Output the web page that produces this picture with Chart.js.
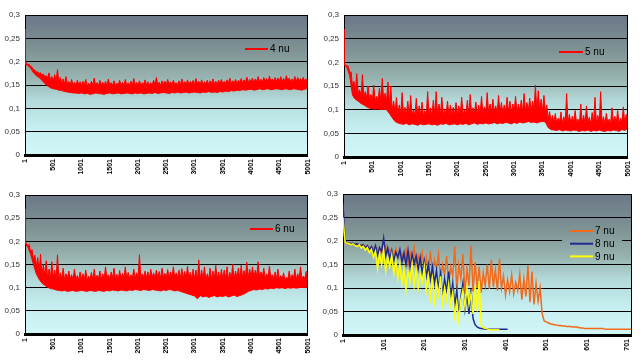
<!DOCTYPE html>
<html>
<head>
<meta charset="utf-8">
<script src="https://cdn.jsdelivr.net/npm/chart.js@4/dist/chart.umd.min.js"></script>
<style>
  html, body { margin: 0; padding: 0; background: #ffffff; }
  #wrap { position: relative; width: 640px; height: 360px; overflow: hidden; }
  canvas { position: absolute; }
</style>
</head>
<body>
<div id="wrap">
  <canvas id="c1" width="320" height="180" style="left:0;top:0"></canvas>
  <canvas id="c2" width="320" height="180" style="left:320px;top:0"></canvas>
  <canvas id="c3" width="320" height="180" style="left:0;top:180px"></canvas>
  <canvas id="c4" width="320" height="180" style="left:320px;top:180px"></canvas>
</div>
<script>
// ---------- tick labels ----------
const yTicks = [0, 0.05, 0.1, 0.15, 0.2, 0.25, 0.3];
const yLabels = ["0", "0,05", "0,1", "0,15", "0,2", "0,25", "0,3"];
const xTicksLong = [1, 501, 1001, 1501, 2001, 2501, 3001, 3501, 4001, 4501, 5001];
const xLabelsLong = ["1", "501", "1001", "1501", "2001", "2501", "3001", "3501", "4001", "4501", "5001"];
const xTicksShort = [1, 101, 201, 301, 401, 501, 601, 701];
const xLabelsShort = ["1", "101", "201", "301", "401", "501", "601", "701"];

// ---------- 4 nu : band bottom (lows) and band top (mids) at x = 1 + 50i, spikes (highs) at x = 26 + 50i ----------
const start4 = 0.27;
const lows4 = [
 0.195,0.192,0.186,0.176,0.170,0.166,0.160,0.153,0.148,0.144,
 0.142,0.141,0.139,0.138,0.136,0.135,0.134,0.133,0.133,0.132,
 0.133,0.131,0.132,0.130,0.131,0.133,0.132,0.131,0.130,0.132,
 0.133,0.131,0.132,0.133,0.131,0.132,0.133,0.132,0.131,0.133,
 0.132,0.133,0.131,0.132,0.133,0.132,0.134,0.132,0.133,0.134,
 0.133,0.132,0.134,0.133,0.135,0.133,0.134,0.135,0.133,0.134,
 0.135,0.134,0.133,0.135,0.134,0.136,0.134,0.135,0.134,0.136,
 0.135,0.137,0.136,0.138,0.137,0.139,0.138,0.140,0.139,0.140,
 0.141,0.139,0.140,0.142,0.140,0.141,0.142,0.140,0.141,0.142,
 0.141,0.140,0.142,0.141,0.140,0.142,0.141,0.140,0.139,0.141,0.143];
const mids4 = [
 0.196,0.194,0.190,0.183,0.178,0.175,0.172,0.168,0.165,0.160,
 0.158,0.157,0.155,0.153,0.152,0.151,0.150,0.150,0.149,0.150,
 0.149,0.150,0.148,0.149,0.150,0.149,0.148,0.150,0.149,0.148,
 0.150,0.149,0.148,0.150,0.149,0.150,0.148,0.149,0.150,0.149,
 0.150,0.149,0.151,0.150,0.149,0.150,0.151,0.150,0.149,0.151,
 0.150,0.151,0.150,0.152,0.151,0.150,0.152,0.151,0.150,0.152,
 0.151,0.152,0.151,0.150,0.152,0.151,0.153,0.152,0.151,0.153,
 0.152,0.153,0.154,0.152,0.154,0.153,0.155,0.154,0.156,0.155,
 0.156,0.155,0.157,0.156,0.157,0.158,0.156,0.157,0.158,0.157,
 0.158,0.157,0.158,0.159,0.157,0.158,0.157,0.159,0.158,0.157,0.156];
const highs4 = [
 0.197,0.194,0.188,0.182,0.178,0.176,0.173,0.170,0.176,0.168,
 0.172,0.183,0.166,0.163,0.168,0.158,0.162,0.156,0.160,0.157,
 0.158,0.162,0.154,0.158,0.165,0.155,0.160,0.156,0.158,0.163,
 0.155,0.159,0.154,0.160,0.156,0.162,0.155,0.158,0.164,0.156,
 0.159,0.155,0.161,0.157,0.155,0.160,0.166,0.156,0.159,0.158,
 0.162,0.157,0.160,0.155,0.159,0.163,0.157,0.161,0.158,0.160,
 0.164,0.158,0.161,0.157,0.160,0.159,0.163,0.158,0.160,0.162,
 0.158,0.161,0.165,0.159,0.162,0.160,0.164,0.161,0.167,0.162,
 0.165,0.163,0.168,0.162,0.166,0.164,0.169,0.163,0.166,0.165,
 0.168,0.164,0.170,0.165,0.163,0.168,0.166,0.164,0.167,0.163];

// ---------- 5 nu ----------
const start5 = 0.27;
const lows5 = [
 0.195,0.190,0.172,0.130,0.122,0.118,0.113,0.110,0.106,0.103,
 0.102,0.101,0.102,0.100,0.101,0.100,0.092,0.083,0.075,0.072,
 0.070,0.069,0.071,0.068,0.070,0.069,0.067,0.070,0.068,0.069,
 0.070,0.068,0.069,0.067,0.070,0.069,0.071,0.068,0.069,0.070,
 0.068,0.070,0.069,0.071,0.068,0.070,0.072,0.069,0.071,0.070,
 0.072,0.070,0.071,0.073,0.070,0.072,0.071,0.073,0.072,0.070,
 0.073,0.071,0.074,0.072,0.073,0.075,0.073,0.074,0.072,0.074,
 0.075,0.074,0.062,0.058,0.057,0.056,0.058,0.055,0.057,0.056,
 0.055,0.057,0.056,0.054,0.056,0.055,0.057,0.054,0.056,0.055,
 0.057,0.055,0.054,0.056,0.055,0.057,0.056,0.054,0.058,0.056,0.060];
const mids5 = [
 0.196,0.192,0.178,0.150,0.140,0.135,0.130,0.128,0.125,0.122,
 0.120,0.119,0.120,0.118,0.119,0.118,0.112,0.100,0.094,0.090,
 0.090,0.088,0.090,0.087,0.089,0.088,0.086,0.089,0.087,0.088,
 0.089,0.087,0.088,0.086,0.089,0.088,0.090,0.087,0.088,0.089,
 0.088,0.090,0.089,0.091,0.088,0.090,0.092,0.089,0.091,0.092,
 0.094,0.092,0.093,0.095,0.092,0.094,0.093,0.096,0.094,0.093,
 0.096,0.094,0.097,0.095,0.096,0.098,0.096,0.099,0.097,0.098,
 0.098,0.095,0.080,0.074,0.073,0.072,0.074,0.071,0.073,0.072,
 0.071,0.073,0.072,0.070,0.072,0.071,0.073,0.070,0.072,0.071,
 0.073,0.071,0.070,0.072,0.071,0.073,0.072,0.070,0.074,0.072,0.075];
const highs5 = [
 0.195,0.192,0.180,0.160,0.176,0.142,0.174,0.138,0.150,0.132,
 0.152,0.128,0.145,0.166,0.135,0.158,0.150,0.118,0.126,0.110,
 0.136,0.105,0.118,0.130,0.100,0.124,0.108,0.116,0.098,0.138,
 0.104,0.120,0.138,0.112,0.126,0.101,0.118,0.110,0.105,0.115,
 0.108,0.126,0.100,0.120,0.132,0.104,0.116,0.110,0.128,0.106,
 0.136,0.112,0.122,0.108,0.130,0.115,0.110,0.126,0.118,0.112,
 0.128,0.112,0.120,0.134,0.115,0.124,0.118,0.152,0.140,0.122,
 0.130,0.110,0.096,0.088,0.092,0.082,0.095,0.085,0.134,0.090,
 0.086,0.098,0.080,0.112,0.088,0.108,0.084,0.094,0.126,0.088,
 0.138,0.085,0.092,0.080,0.104,0.086,0.098,0.082,0.106,0.090];

// ---------- 6 nu ----------
const start6 = 0.27;
const lows6 = [
 0.195,0.188,0.172,0.150,0.130,0.118,0.110,0.105,0.101,0.098,
 0.097,0.095,0.094,0.093,0.094,0.092,0.093,0.094,0.092,0.093,
 0.094,0.093,0.092,0.094,0.093,0.092,0.094,0.093,0.092,0.094,
 0.093,0.095,0.094,0.093,0.095,0.094,0.093,0.095,0.094,0.096,
 0.095,0.094,0.096,0.095,0.094,0.096,0.095,0.094,0.093,0.095,
 0.094,0.096,0.095,0.093,0.094,0.092,0.090,0.088,0.086,0.084,
 0.082,0.076,0.083,0.080,0.082,0.079,0.081,0.083,0.080,0.082,
 0.081,0.083,0.080,0.082,0.084,0.081,0.083,0.085,0.088,0.092,
 0.094,0.096,0.095,0.097,0.096,0.098,0.097,0.099,0.098,0.100,
 0.099,0.100,0.098,0.100,0.099,0.100,0.099,0.100,0.101,0.100,0.102];
const mids6 = [
 0.196,0.190,0.178,0.160,0.145,0.135,0.128,0.125,0.122,0.120,
 0.120,0.119,0.118,0.119,0.117,0.118,0.119,0.117,0.118,0.117,
 0.118,0.117,0.116,0.118,0.117,0.118,0.119,0.117,0.118,0.119,
 0.118,0.120,0.119,0.118,0.120,0.121,0.119,0.120,0.121,0.120,
 0.121,0.120,0.122,0.121,0.120,0.122,0.121,0.122,0.120,0.121,
 0.122,0.121,0.123,0.121,0.122,0.120,0.121,0.120,0.119,0.120,
 0.118,0.115,0.117,0.118,0.116,0.118,0.117,0.119,0.118,0.117,
 0.118,0.119,0.117,0.120,0.119,0.121,0.120,0.122,0.123,0.122,
 0.124,0.123,0.125,0.122,0.124,0.121,0.123,0.120,0.119,0.118,
 0.117,0.118,0.116,0.119,0.117,0.120,0.118,0.121,0.119,0.120,0.118];
const highs6 = [
 0.196,0.193,0.182,0.170,0.165,0.172,0.150,0.158,0.140,0.156,
 0.138,0.171,0.132,0.142,0.130,0.136,0.128,0.140,0.126,0.134,
 0.130,0.138,0.125,0.133,0.140,0.127,0.136,0.130,0.145,0.128,
 0.134,0.142,0.129,0.137,0.131,0.145,0.133,0.128,0.140,0.132,
 0.171,0.130,0.136,0.134,0.140,0.132,0.138,0.135,0.142,0.131,
 0.139,0.134,0.145,0.132,0.138,0.141,0.135,0.146,0.133,0.140,
 0.138,0.160,0.138,0.145,0.130,0.142,0.136,0.148,0.134,0.140,
 0.138,0.145,0.133,0.150,0.136,0.142,0.148,0.137,0.155,0.140,
 0.145,0.138,0.156,0.134,0.142,0.130,0.146,0.128,0.134,0.140,
 0.126,0.132,0.122,0.136,0.128,0.140,0.130,0.145,0.125,0.135];

// ---------- 7 / 8 / 9 nu (values at x = 1 + 5i) ----------
const nu7 = [
 0.250,0.197,0.195,0.194,0.195,0.193,0.194,0.192,0.193,0.190,
 0.192,0.188,0.190,0.186,0.182,0.188,0.178,0.185,0.172,0.186,
 0.176,0.190,0.170,0.182,0.176,0.168,0.184,0.165,0.178,0.172,
 0.160,0.182,0.150,0.176,0.158,0.186,0.145,0.170,0.152,0.175,
 0.140,0.165,0.135,0.178,0.130,0.160,0.142,0.172,0.118,0.150,
 0.128,0.168,0.110,0.145,0.125,0.188,0.095,0.150,0.120,0.172,
 0.088,0.140,0.105,0.190,0.092,0.155,0.100,0.145,0.090,0.132,
 0.105,0.150,0.098,0.160,0.102,0.138,0.095,0.162,0.100,0.125,
 0.085,0.118,0.092,0.128,0.088,0.112,0.095,0.130,0.075,0.120,
 0.082,0.148,0.070,0.135,0.065,0.110,0.072,0.100,0.045,0.030,
 0.028,0.026,0.024,0.023,0.022,0.021,0.020,0.020,0.019,0.019,
 0.018,0.018,0.018,0.017,0.017,0.017,0.016,0.015,0.015,0.014,
 0.014,0.014,0.014,0.014,0.014,0.014,0.014,0.014,0.014,0.012,
 0.012,0.012,0.012,0.012,0.012,0.012,0.012,0.012,0.012,0.012,
 0.012,0.012,0.012];
const nu8 = [
 0.280,0.200,0.196,0.195,0.194,0.195,0.193,0.194,0.192,0.190,
 0.192,0.186,0.190,0.182,0.188,0.176,0.190,0.170,0.186,0.178,
 0.206,0.168,0.185,0.162,0.180,0.158,0.176,0.165,0.182,0.155,
 0.175,0.150,0.180,0.145,0.172,0.152,0.168,0.140,0.165,0.132,
 0.158,0.125,0.150,0.118,0.145,0.110,0.138,0.098,0.130,0.085,
 0.120,0.092,0.135,0.078,0.110,0.062,0.095,0.040,0.080,0.110,
 0.055,0.088,0.045,0.098,0.035,0.022,0.017,0.015,0.014,0.013,
 0.012,0.012,0.012,0.012,0.012,0.012,0.012,0.012,0.012,0.012,
 0.012,0.012];
const nu9 = [
 0.250,0.198,0.195,0.194,0.192,0.194,0.190,0.188,0.192,0.185,
 0.189,0.180,0.186,0.175,0.182,0.165,0.178,0.140,0.172,0.150,
 0.180,0.135,0.165,0.145,0.170,0.130,0.158,0.120,0.150,0.110,
 0.140,0.096,0.135,0.115,0.150,0.105,0.140,0.100,0.130,0.112,
 0.145,0.095,0.125,0.080,0.118,0.072,0.110,0.085,0.125,0.068,
 0.100,0.075,0.108,0.065,0.090,0.040,0.070,0.032,0.075,0.095,
 0.060,0.100,0.065,0.088,0.045,0.105,0.050,0.115,0.020,0.016,
 0.014,0.013,0.011,0.011,0.011,0.011,0.011,0.011];

// ---------- helpers ----------
function zigzag(start, mids, highs, step) {
  const pts = [{ x: 1, y: start }];
  for (let i = 0; i < mids.length; i++) {
    pts.push({ x: 1 + step * i, y: mids[i] });
    if (i < highs.length) pts.push({ x: 1 + step * i + step / 2, y: highs[i] });
  }
  return pts;
}
function series(vals, step) {
  return vals.map((v, i) => ({ x: 1 + step * i, y: v }));
}
function plotGradient(chart) {
  const a = chart.chartArea;
  const g = chart.ctx.createLinearGradient(0, a.top, 0, a.bottom);
  g.addColorStop(0, '#6b7888');
  g.addColorStop(0.25, '#7f9394');
  g.addColorStop(0.45, '#98b4b0');
  g.addColorStop(0.6, '#b2d8d8');
  g.addColorStop(0.8, '#c6eef0');
  g.addColorStop(1, '#d2f6f6');
  return g;
}

const bgPlugin = {
  id: 'plotBg',
  beforeDraw(chart) {
    const a = chart.chartArea, ctx = chart.ctx;
    ctx.save();
    ctx.fillStyle = plotGradient(chart);
    ctx.fillRect(a.left, a.top, a.right - a.left, a.bottom - a.top);
    ctx.restore();
  },
  beforeDatasetsDraw(chart) {
    const a = chart.chartArea, ctx = chart.ctx;
    ctx.save();
    ctx.strokeStyle = '#000';
    ctx.lineWidth = 1;
    ctx.beginPath();
    ctx.moveTo(Math.round(a.right) - 0.5, a.top);
    ctx.lineTo(Math.round(a.right) - 0.5, a.bottom);
    ctx.stroke();
    ctx.restore();
  }
};

const legendPlugin = {
  id: 'boxLegend',
  afterDatasetsDraw(chart, args, o) {
    const ctx = chart.ctx;
    ctx.save();
    if (o.box) {
      ctx.fillStyle = plotGradient(chart);
      ctx.fillRect(o.box[0], o.box[1], o.box[2], o.box[3]);
    }
    ctx.font = '10px "Liberation Sans", Arial, sans-serif';
    ctx.textBaseline = 'middle';
    ctx.textAlign = 'left';
    chart.data.datasets.filter(ds => ds.label).forEach((ds, k) => {
      const y = o.y + k * o.dy;
      ctx.strokeStyle = ds.borderColor;
      ctx.lineWidth = 2;
      ctx.beginPath();
      ctx.moveTo(o.x, y);
      ctx.lineTo(o.x + o.len, y);
      ctx.stroke();
      ctx.fillStyle = '#000';
      ctx.fillText(ds.label, o.x + o.len + 2, y + 0.5);
    });
    ctx.restore();
  }
};

function makeChart(id, datasets, xMax, xTicks, xLabels, lay, legendOpts) {
  return new Chart(document.getElementById(id), {
    type: 'line',
    data: { datasets },
    plugins: [bgPlugin, legendPlugin],
    options: {
      responsive: false,
      animation: false,
      devicePixelRatio: 1,
      layout: { padding: { top: lay.top, right: 320 - lay.right, left: 0, bottom: 0 } },
      elements: { point: { radius: 0 }, line: { tension: 0 } },
      plugins: {
        legend: { display: false },
        tooltip: { enabled: false },
        filler: { propagate: false },
        boxLegend: legendOpts
      },
      scales: {
        x: {
          type: 'linear',
          min: 1,
          max: xMax,
          afterBuildTicks: s => { s.ticks = xTicks.map(v => ({ value: v })); },
          afterFit: s => { s.height = 180 - lay.bottom; },
          grid: { display: false, drawTicks: false },
          border: { display: true, color: '#000', width: 3 },
          ticks: {
            autoSkip: false,
            minRotation: 90,
            maxRotation: 90,
            padding: 4,
            color: '#000',
            font: { family: '"Liberation Sans", Arial, sans-serif', size: 7, weight: 'bold' },
            callback: (v, i) => xLabels[i]
          }
        },
        y: {
          min: 0,
          max: 0.3,
          afterBuildTicks: s => { s.ticks = yTicks.map(v => ({ value: v })); },
          afterFit: s => { s.width = lay.left; },
          grid: { color: '#000', lineWidth: 1, drawTicks: false },
          border: { display: true, color: '#000', width: 1 },
          ticks: {
            padding: 5,
            color: '#333',
            font: { family: '"Liberation Sans", Arial, sans-serif', size: 8 },
            callback: (v, i) => yLabels[i]
          }
        }
      }
    }
  });
}

const RED = '#ff0000';
function band(label, start, lows, mids, highs) {
  return [
    { label, data: zigzag(start, mids, highs, 50), borderColor: RED, backgroundColor: RED, borderWidth: 1, fill: '+1' },
    { label: '', data: series(lows, 50), borderColor: RED, borderWidth: 1, fill: false }
  ];
}
makeChart('c1', band('4 nu', start4, lows4, mids4, highs4),
  5001, xTicksLong, xLabelsLong,
  { left: 25, right: 313, top: 15, bottom: 155 },
  { x: 245, y: 49, dy: 0, len: 23 });
makeChart('c2', band('5 nu', start5, lows5, mids5, highs5),
  5001, xTicksLong, xLabelsLong,
  { left: 24, right: 312, top: 15, bottom: 157 },
  { x: 239, y: 52, dy: 0, len: 24 });
makeChart('c3', band('6 nu', start6, lows6, mids6, highs6),
  5001, xTicksLong, xLabelsLong,
  { left: 25, right: 312, top: 15, bottom: 154 },
  { x: 250, y: 49, dy: 0, len: 23 });
makeChart('c4',
  [
    { label: '7 nu', data: series(nu7, 5), borderColor: '#f26a1b', borderWidth: 1.5, order: 3 },
    { label: '8 nu', data: series(nu8, 5), borderColor: '#1f2a8c', borderWidth: 1.5, order: 2 },
    { label: '9 nu', data: series(nu9, 5), borderColor: '#ffff00', borderWidth: 1.5, order: 1 }
  ],
  711, xTicksShort, xLabelsShort,
  { left: 23, right: 312, top: 14, bottom: 155 },
  { x: 250, y: 51, dy: 12.7, len: 23, box: [242, 42, 60, 42] });
</script>
</body>
</html>
